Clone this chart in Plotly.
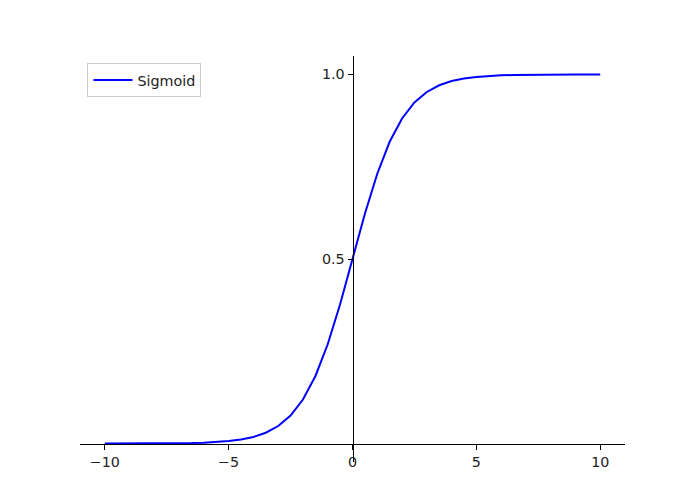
import plotly.graph_objects as go

# Sigmoid samples
x_vals = [-10, -9.5, -9, -8.5, -8, -7.5, -7, -6.5, -6, -5.5, -5, -4.5, -4, -3.5, -3, -2.5, -2, -1.5, -1, -0.5,
          0, 0.5, 1, 1.5, 2, 2.5, 3, 3.5, 4, 4.5, 5, 5.5, 6, 6.5, 7, 7.5, 8, 8.5, 9, 9.5, 10]
y_vals = [0.0000454, 0.0000749, 0.000123, 0.000203, 0.000335, 0.000553, 0.000911, 0.001501, 0.002473, 0.004070,
          0.006693, 0.010987, 0.017986, 0.029312, 0.047426, 0.075858, 0.119203, 0.182426, 0.268941, 0.377541,
          0.5, 0.622459, 0.731059, 0.817574, 0.880797, 0.924142, 0.952574, 0.970688, 0.982014, 0.989013,
          0.993307, 0.995930, 0.997527, 0.998499, 0.999089, 0.999447, 0.999665, 0.999797, 0.999877, 0.999925,
          0.999955]
x_ticks = [-10, -5, 0, 5, 10]
x_tick_labels = ["\u221210", "\u22125", "0", "5", "10"]
y_ticks = [0.5, 1.0]
y_tick_labels = ["0.5", "1.0"]
series_name = "Sigmoid"

FONT = "DejaVu Sans"
FS = 14.3
x_range = [-11, 11]
y_range = [-0.05, 1.05]

fig = go.Figure()
fig.add_trace(go.Scatter(x=x_vals, y=y_vals, mode="lines", name=series_name,
                         line=dict(color="#0000ff", width=2), showlegend=True))

fig.update_layout(
    width=681, height=485,
    margin=dict(l=71.5, r=64, t=47.5, b=30.5),
    paper_bgcolor="white", plot_bgcolor="white",
    font=dict(family=FONT, size=FS, color="black"),
    showlegend=True,
    legend=dict(x=0.0137, y=0.982, xanchor="left", yanchor="top",
                bgcolor="rgba(255,255,255,0.8)", bordercolor="#cccccc", borderwidth=1,
                font=dict(family=FONT, size=FS, color="#222222"),
                itemwidth=39),
    xaxis=dict(range=x_range, anchor="free",
               position=(0 - y_range[0]) / (y_range[1] - y_range[0]),
               showline=True, linecolor="black", linewidth=1,
               showgrid=False, zeroline=False,
               tickmode="array", tickvals=x_ticks, ticktext=x_tick_labels,
               ticks="outside", ticklen=5, tickwidth=1, tickcolor="black",
               tickfont=dict(family=FONT, size=FS, color="#222222")),
    yaxis=dict(range=y_range, anchor="free",
               position=(0 - x_range[0]) / (x_range[1] - x_range[0]),
               showline=True, linecolor="black", linewidth=1,
               showgrid=False, zeroline=False,
               tickmode="array", tickvals=y_ticks, ticktext=y_tick_labels,
               ticks="outside", ticklen=5, tickwidth=1, tickcolor="black",
               tickfont=dict(family=FONT, size=FS, color="#222222")),
)

fig.write_html("out.html")
